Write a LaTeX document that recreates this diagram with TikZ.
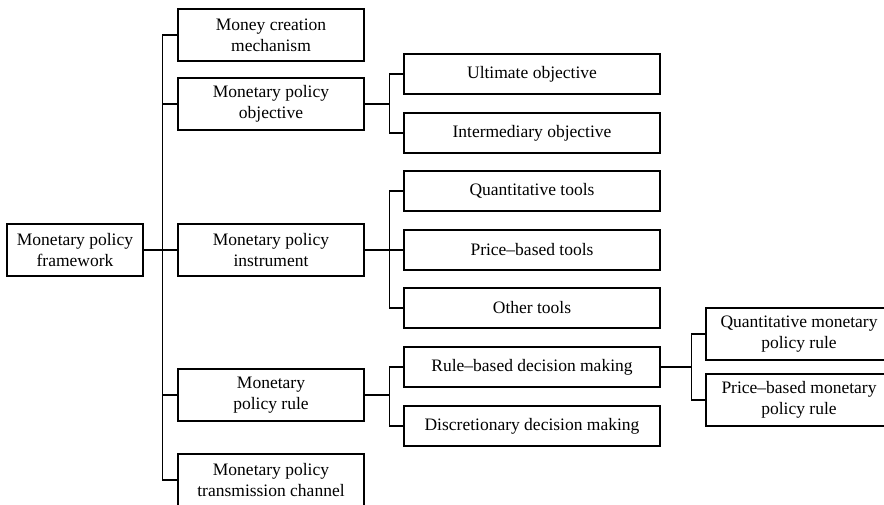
\documentclass[tikz,border=0pt]{standalone}
\usepackage{fontspec}
\setmainfont{Liberation Serif}
\tikzset{
	box/.style={draw, line width=1.4pt, align=center, inner sep=0pt, font=\fontsize{17.5}{21}\selectfont},
	rootbox/.style={box, minimum width=136pt, minimum height=52pt},
	tallbox/.style={box, minimum width=186pt, minimum height=52pt},
	flatbox/.style={box, minimum width=256pt, minimum height=40pt},
	link/.style={line width=1.4pt}
}
\begin{document}
\begin{tikzpicture}[x=1pt, y=-1pt]
				\clip (0,0) rectangle (884,504);
				\useasboundingbox (0,0) rectangle (884,504);
				% first level
				\node[rootbox] (frame) at (75,250) {Monetary policy\\framework};
				\node[tallbox] (creation) at (271,35) {Money creation\\mechanism};
				\node[tallbox] (objective) at (271,104) {Monetary policy\\objective};
				\node[tallbox] (instrument) at (271,250) {Monetary policy\\instrument};
				\node[tallbox] (rule) at (271,395) {Monetary\\policy rule};
				\node[tallbox] (channel) at (271,480) {Monetary policy\\transmission channel};
				
				% second level
				\node[flatbox] (ultimate) at (532,74) {Ultimate objective};
				\node[flatbox] (intermed) at (532,133) {Intermediary objective};
				\node[flatbox] (quantools) at (532,191) {Quantitative tools};
				\node[flatbox] (pricetools) at (532,250) {Price--based tools};
				\node[flatbox] (othertools) at (532,308) {Other tools};
				\node[flatbox] (rulebased) at (532,367) {Rule--based decision making};
				\node[flatbox] (discretion) at (532,426) {Discretionary decision making};
				
				% third level
				\node[tallbox] (quanrule) at (799,334) {Quantitative monetary\\policy rule};
				\node[tallbox] (pricerule) at (799,400) {Price--based monetary\\policy rule};
				
				\foreach \child in {creation,objective,instrument,rule,channel}
					\draw[link] (frame.east) -- ++(19,0) |- (\child.west);
				\foreach \child in {ultimate,intermed}
					\draw[link] (objective.east) -- ++(25,0) |- (\child.west);
				\foreach \child in {quantools,pricetools,othertools}
					\draw[link] (instrument.east) -- ++(25,0) |- (\child.west);
				\foreach \child in {rulebased,discretion}
					\draw[link] (rule.east) -- ++(25,0) |- (\child.west);
				\foreach \child in {quanrule,pricerule}
					\draw[link] (rulebased.east) -- ++(31,0) |- (\child.west);
		\end{tikzpicture}
\end{document}
